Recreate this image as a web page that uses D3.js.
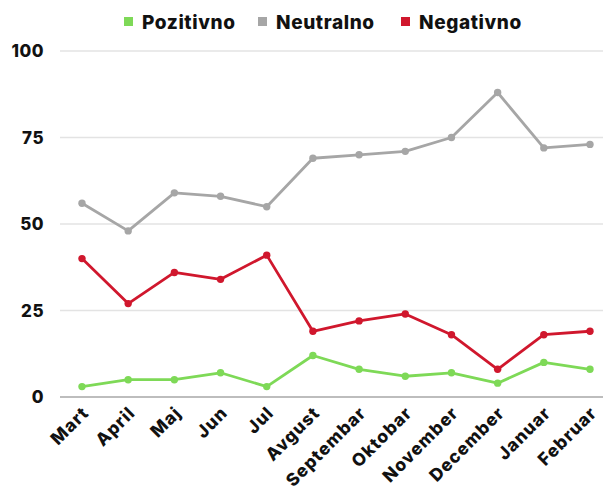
<!DOCTYPE html>
<html>
<head>
<meta charset="utf-8">
<script src="https://cdn.jsdelivr.net/npm/d3@7"></script>
<style>
  body { margin: 0; background: #fff; }
  text { font-family: Inter, "Open Sans", sans-serif; }
</style>
</head>
<body>
<div id="chart"></div>
<script>
var months = ["Mart", "April", "Maj", "Jun", "Jul", "Avgust", "Septembar", "Oktobar",
    "November", "December", "Januar", "Februar"];
var pozitivno = [3, 5, 5, 7, 3, 12, 8, 6, 7, 4, 10, 8];
var neutralno = [56, 48, 59, 58, 55, 69, 70, 71, 75, 88, 72, 73];
var negativno = [40, 27, 36, 34, 41, 19, 22, 24, 18, 8, 18, 19];
var yTicks = [0, 25, 50, 75, 100];
var seriesNames = ["Pozitivno", "Neutralno", "Negativno"];
var seriesColors = ["#7ed957", "#a6a6a6", "#d0172d"];

var width = 603, height = 500;

var svg = d3.select("#chart").append("svg")
    .attr("width", width)
    .attr("height", height);

var x = d3.scalePoint()
    .domain(months)
    .range([82, 590]);

var y = d3.scaleLinear()
    .domain([0, 100])
    .range([397, 51]);

// grid lines
svg.append("g")
    .selectAll("line")
    .data(yTicks)
    .enter()
    .append("line")
    .attr("x1", 60)
    .attr("x2", width)
    .attr("y1", function (d) { return y(d); })
    .attr("y2", function (d) { return y(d); })
    .attr("stroke", function (d) { return d == 0 ? "#bdbdbd" : "#e3e3e3"; })
    .attr("stroke-width", function (d) { return d == 0 ? 2 : 1.5; });

// y labels
svg.append("g")
    .selectAll("text")
    .data(yTicks)
    .enter()
    .append("text")
    .attr("x", 44)
    .attr("y", function (d) { return y(d); })
    .attr("dy", "0.36em")
    .attr("text-anchor", "end")
    .attr("font-size", 17)
    .attr("font-weight", 800)
    .attr("letter-spacing", 0.5)
    .attr("fill", "#111")
    .text(function (d) { return d; });

// x labels
svg.append("g")
    .selectAll("text")
    .data(months)
    .enter()
    .append("text")
    .attr("transform", function (d) {
        return "translate(" + (x(d) + 8) + ",414) rotate(-45)";
    })
    .attr("text-anchor", "end")
    .attr("font-size", 17.5)
    .attr("font-weight", 800)
    .attr("letter-spacing", 1)
    .attr("fill", "#111")
    .text(function (d) { return d; });

var allSeries = [pozitivno, neutralno, negativno];

var line = d3.line()
    .x(function (d, i) { return x(months[i]); })
    .y(function (d) { return y(d); });

// draw gray first, then red, then green on top
[1, 2, 0].forEach(function (s) {
    var g = svg.append("g");
    g.append("path")
        .datum(allSeries[s])
        .attr("d", line)
        .attr("fill", "none")
        .attr("stroke", seriesColors[s])
        .attr("stroke-width", 2.8)
        .attr("stroke-linejoin", "round");
    g.selectAll("circle")
        .data(allSeries[s])
        .enter()
        .append("circle")
        .attr("cx", function (d, i) { return x(months[i]); })
        .attr("cy", function (d) { return y(d); })
        .attr("r", 3.7)
        .attr("fill", seriesColors[s]);
});

// legend
var legendX = [124, 258, 401];
var legend = svg.append("g");
seriesNames.forEach(function (name, i) {
    legend.append("rect")
        .attr("x", legendX[i])
        .attr("y", 17)
        .attr("width", 9)
        .attr("height", 9)
        .attr("fill", seriesColors[i]);
    legend.append("text")
        .attr("x", legendX[i] + 18)
        .attr("y", 29)
        .attr("font-size", 19)
        .attr("font-weight", 800)
        .attr("letter-spacing", 0.6)
        .attr("fill", "#111")
        .text(name);
});
</script>
</body>
</html>
